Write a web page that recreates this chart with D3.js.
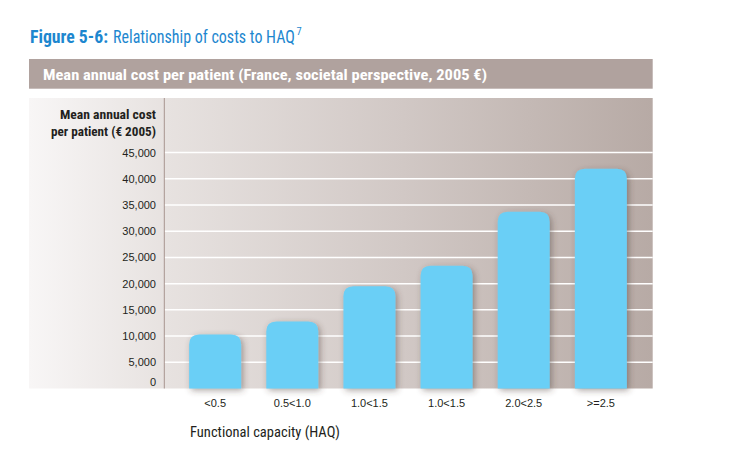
<!DOCTYPE html>
<html><head><meta charset="utf-8">
<script src="https://cdn.jsdelivr.net/npm/d3@7"></script>
<style>
body{margin:0;background:#fff;}
svg{display:block;}
.cond{font-family:"Liberation Sans Narrow","Arial Narrow","Roboto Condensed","Liberation Sans",sans-serif;}
.reg{font-family:"Liberation Sans",Arial,sans-serif;}
</style>
</head><body>
<svg id="c" width="753" height="466"></svg>
<script>
const categories = ["<0.5","0.5<1.0","1.0<1.5","1.0<1.5","2.0<2.5",">=2.5"];
const values = [10300,12800,19500,23400,33700,41900];
const yTicks = [0,5000,10000,15000,20000,25000,30000,35000,40000,45000];

const svg = d3.select("#c");
const defs = svg.append("defs");
const g = defs.append("linearGradient").attr("id","bg").attr("x1","0").attr("x2","1").attr("y1","0").attr("y2","0");
g.append("stop").attr("offset","0").attr("stop-color","#f8f6f6");
g.append("stop").attr("offset","0.22").attr("stop-color","#e7e2e0");
g.append("stop").attr("offset","0.6").attr("stop-color","#d1c8c5");
g.append("stop").attr("offset","1").attr("stop-color","#b7aaa5");
const f = defs.append("filter").attr("id","sh").attr("x","-20%").attr("y","-20%").attr("width","150%").attr("height","150%");
f.append("feDropShadow").attr("dx",2).attr("dy",2).attr("stdDeviation",3).attr("flood-color","#4a3a35").attr("flood-opacity",0.45);

function ctext(x0,y0,size,weight,fill,str,len){
  return svg.append("text").attr("class","cond").attr("x",x0).attr("y",y0).attr("font-size",size)
    .attr("font-weight",weight).attr("fill",fill).attr("textLength",len).attr("lengthAdjust","spacingAndGlyphs").text(str);
}

// title
ctext(30,43,18,"bold","#1d87cf","Figure 5-6:",78);
const tt = svg.append("text").attr("class","cond").attr("transform","translate(113,43)").attr("font-size",18).attr("fill","#1d87cf")
  .text("Relationship of costs to HAQ");
const w = tt.node().getComputedTextLength();
const sx = 182 / w;
tt.attr("transform",`translate(113,43) scale(${sx},1)`);
svg.append("text").attr("class","cond").attr("x",113 + w*sx + 1.5).attr("y",35).attr("font-size",10.5).attr("fill","#1d87cf").text("7");

// header bar
svg.append("rect").attr("x",29).attr("y",59).attr("width",623.7).attr("height",29.7).attr("fill","#b0a29e");
ctext(43,79.5,15.5,"bold","#fff","Mean annual cost per patient (France, societal perspective, 2005 €)",444);

// panel
svg.append("rect").attr("x",29).attr("y",98).attr("width",623.7).attr("height",290.5).attr("fill","url(#bg)");

const x = d3.scaleBand().domain(d3.range(categories.length)).range([164,652]).padding(0.326);
const y = d3.scaleLinear().domain([0,45000]).range([388.5,152.6]);

// gridlines
svg.append("g").selectAll("line").data(yTicks.filter(d=>d>0)).join("line")
  .attr("x1",164).attr("x2",652.7).attr("y1",d=>y(d)).attr("y2",d=>y(d))
  .attr("stroke","#fff").attr("stroke-width",1.5);

// axis line
svg.append("line").attr("x1",164.3).attr("x2",164.3).attr("y1",98).attr("y2",388.5).attr("stroke","#a8958f").attr("stroke-width",1);

// y tick labels
svg.append("g").selectAll("text").data(yTicks).join("text").attr("class","reg")
  .attr("x",156).attr("y",d=>y(d)+4 - (d===0?7:0)).attr("text-anchor","end").attr("font-size",11).attr("fill","#231f20")
  .text(d=>d3.format(",")(d));

// y title
ctext(60,119,12.5,"bold","#231f20","Mean annual cost",96);
ctext(51,136,12.5,"bold","#231f20","per patient (€ 2005)",105);

// bars
const r = 10;
function barPath(x0,w,yTop,yBot){
  return `M${x0},${yBot}V${yTop+r}Q${x0},${yTop} ${x0+r},${yTop}H${x0+w-r}Q${x0+w},${yTop} ${x0+w},${yTop+r}V${yBot}Z`;
}
svg.append("g").selectAll("path").data(values).join("path")
  .attr("d",(d,i)=>barPath(x(i),x.bandwidth(),y(d),y(0)))
  .attr("fill","#6bcff6").attr("filter","url(#sh)");

// x labels
svg.append("g").selectAll("text").data(categories).join("text").attr("class","reg")
  .attr("x",(d,i)=>x(i)+x.bandwidth()/2).attr("y",407).attr("text-anchor","middle").attr("font-size",11).attr("fill","#231f20")
  .text(d=>d);

ctext(190,437,15.5,"normal","#231f20","Functional capacity (HAQ)",150);
</script>
</body></html>
